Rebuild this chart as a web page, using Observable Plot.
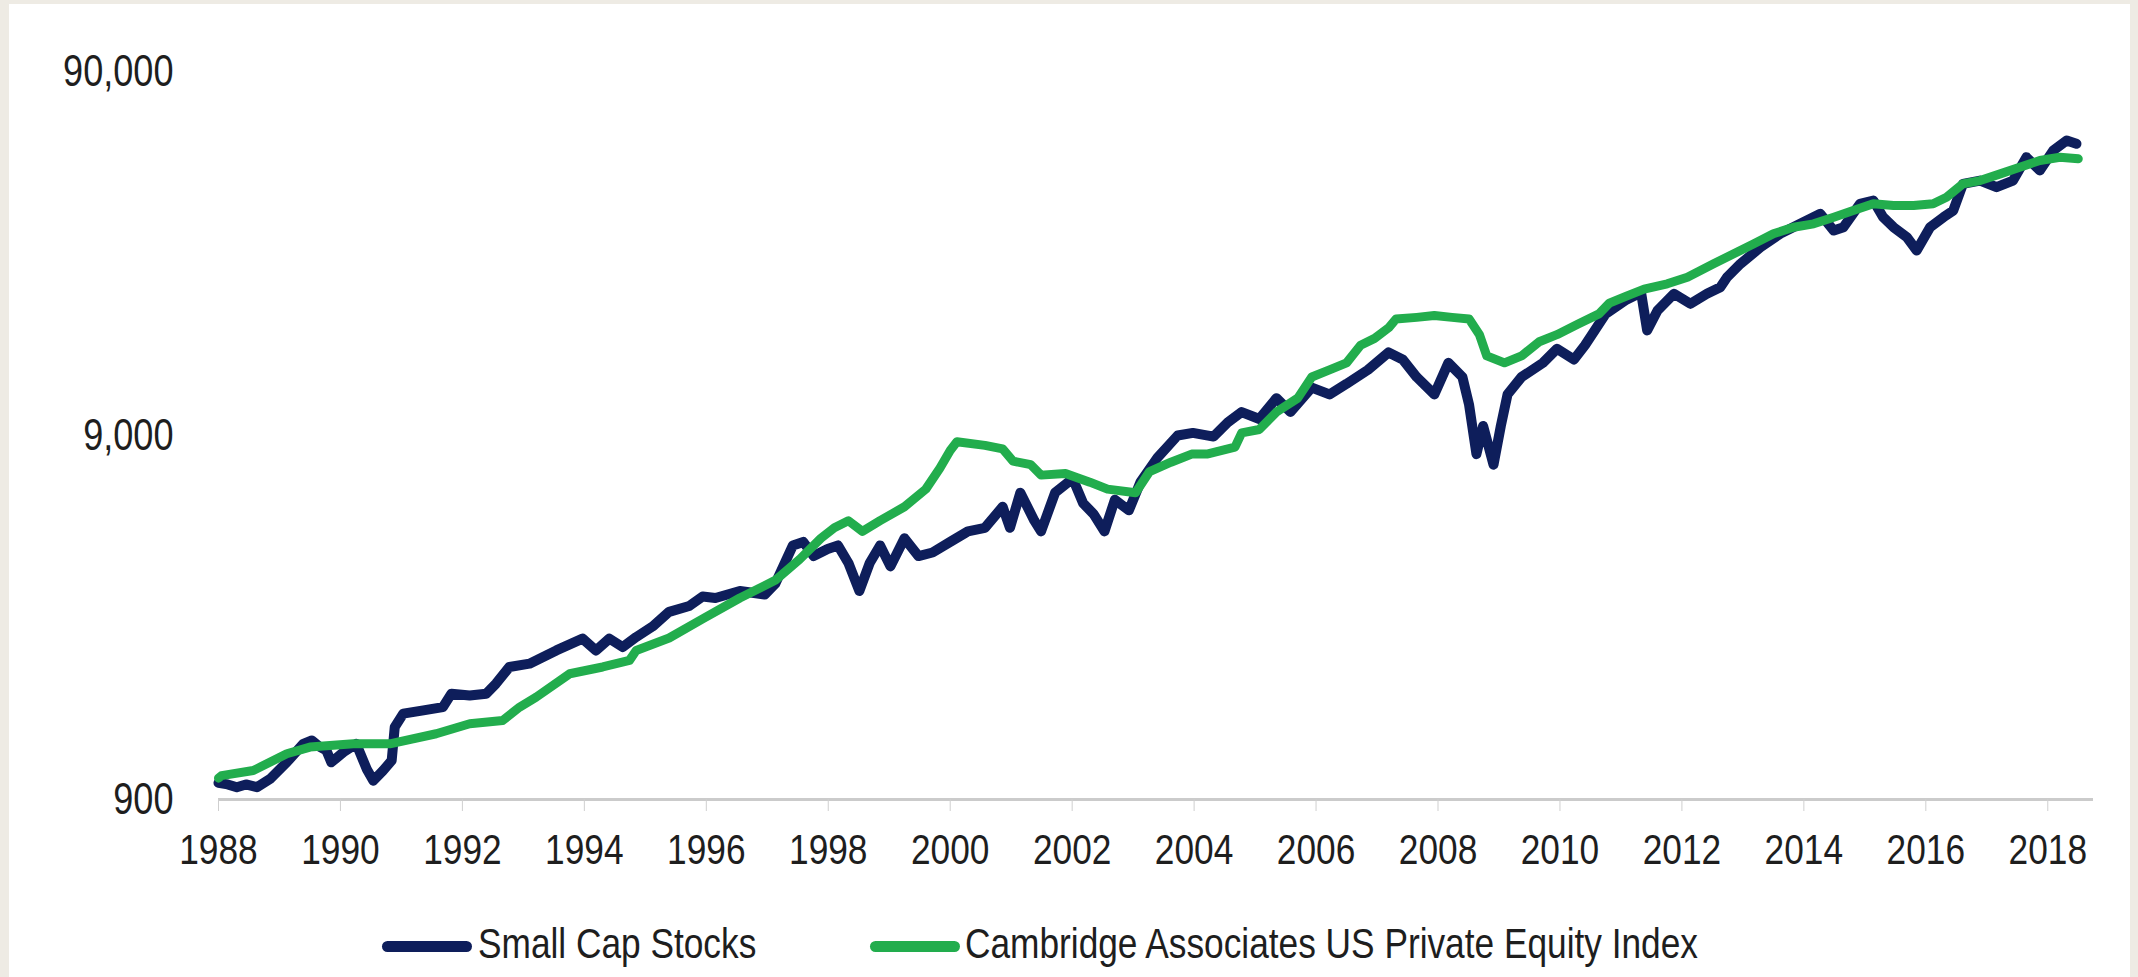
<!DOCTYPE html>
<html>
<head>
<meta charset="utf-8">
<script src="https://cdn.jsdelivr.net/npm/d3@7"></script>
<script src="https://cdn.jsdelivr.net/npm/@observablehq/plot@0.6"></script>
<style>
  html, body { margin: 0; padding: 0; }
  body { background: #eeebe4; width: 2138px; height: 977px; overflow: hidden; }
  #wrap { position: relative; width: 2138px; height: 977px; }
  #panel { position: absolute; left: 9px; top: 4px; width: 2121px; height: 973px; background: #ffffff; }
  #chart { position: absolute; left: 0; top: 0; }
  #legend { position: absolute; left: 0; top: 917px; width: 2138px; height: 52px; }
  .item { position: absolute; top: 0; height: 52px; display: flex; align-items: center; white-space: nowrap; }
  .sw { display: inline-block; width: 90px; height: 11px; border-radius: 6px; margin-top: 6px; }
  .lbl { display: inline-block; font-size: 43px; color: #1e1e1e; transform-origin: left center; }
</style>
</head>
<body>
<div id="wrap">
  <div id="panel"></div>
  <div id="chart"></div>
  <div id="legend"></div>
</div>
<script>
// ---------- data ----------
const seriesNames = ["Small Cap Stocks", "Cambridge Associates US Private Equity Index"];
const seriesColors = ["#0e1e5b", "#22ad4d"];

const smallCapDates = [1988.00,1988.15,1988.30,1988.45,1988.63,1988.85,1989.12,1989.39,1989.53,1989.65,1989.77,1989.85,1990.05,1990.26,1990.43,1990.54,1990.70,1990.84,1990.89,1991.03,1991.36,1991.68,1991.82,1992.12,1992.39,1992.55,1992.77,1993.10,1993.54,1993.97,1994.19,1994.41,1994.63,1994.85,1995.12,1995.39,1995.72,1995.94,1996.15,1996.55,1996.96,1997.13,1997.42,1997.59,1997.76,1997.99,1998.16,1998.33,1998.51,1998.68,1998.85,1999.02,1999.25,1999.48,1999.71,2000.00,2000.29,2000.57,2000.86,2000.98,2001.15,2001.38,2001.49,2001.72,2002.01,2002.18,2002.35,2002.53,2002.70,2002.93,2003.12,2003.40,2003.73,2003.98,2004.32,2004.55,2004.78,2005.07,2005.35,2005.58,2005.93,2006.22,2006.50,2006.85,2007.19,2007.42,2007.65,2007.94,2008.17,2008.40,2008.51,2008.63,2008.74,2008.91,2009.03,2009.14,2009.37,2009.72,2009.95,2010.23,2010.41,2010.75,2011.09,2011.33,2011.43,2011.60,2011.87,2012.14,2012.41,2012.63,2012.74,2012.96,2013.29,2013.61,2013.94,2014.27,2014.49,2014.65,2014.92,2015.14,2015.30,2015.47,2015.69,2015.85,2016.07,2016.29,2016.45,2016.61,2016.89,2017.16,2017.43,2017.65,2017.87,2018.09,2018.31,2018.47];
const smallCapValues = [1000,990,973,990,973,1026,1139,1280,1307,1260,1227,1139,1214,1280,1092,1014,1081,1151,1422,1549,1582,1615,1758,1738,1758,1873,2081,2125,2311,2490,2311,2490,2360,2514,2690,2950,3060,3250,3219,3365,3291,3521,4490,4591,4198,4391,4490,4019,3365,4019,4490,3933,4697,4198,4293,4591,4907,5019,5734,5019,6267,5250,4907,6267,6852,5862,5480,4907,5995,5605,6700,7830,9000,9150,8940,9770,10440,9990,11400,10440,12190,11670,12480,13630,15220,14560,13030,11670,14250,13030,10920,8000,9560,7480,9560,11670,13030,14250,15570,14560,15930,19430,21250,22230,17500,19840,22050,20700,22050,23000,24500,26670,29610,32240,34340,36590,32910,33610,38970,39800,35810,33610,31550,29000,33610,35810,37350,44230,45150,43280,45150,52340,48110,54600,58160,56970];

const peDates = [1988.00,1988.05,1988.57,1989.12,1989.50,1990.21,1990.81,1991.57,1992.12,1992.66,1992.94,1993.21,1993.76,1994.30,1994.74,1994.85,1995.39,1995.94,1996.55,1997.13,1997.53,1997.88,1998.10,1998.33,1998.56,1998.85,1999.25,1999.60,1999.83,2000.00,2000.11,2000.57,2000.86,2001.03,2001.32,2001.49,2001.89,2002.29,2002.58,2003.04,2003.27,2003.62,2003.96,2004.21,2004.67,2004.78,2005.07,2005.35,2005.70,2005.93,2006.22,2006.50,2006.73,2006.96,2007.19,2007.31,2007.65,2007.94,2008.23,2008.51,2008.68,2008.80,2009.09,2009.37,2009.66,2009.95,2010.29,2010.64,2010.81,2011.09,2011.38,2011.76,2012.09,2012.52,2012.85,2013.18,2013.50,2013.83,2014.16,2014.49,2014.81,2015.14,2015.47,2015.80,2016.12,2016.34,2016.61,2016.89,2017.22,2017.54,2017.87,2018.20,2018.50];
const peValues = [1030,1047,1081,1202,1254,1280,1280,1364,1453,1484,1615,1720,1994,2081,2170,2311,2500,2820,3219,3600,4111,4697,5019,5250,4907,5250,5734,6411,7316,8182,8650,8455,8270,7651,7483,7005,7079,6700,6411,6267,7163,7600,8000,8000,8360,9150,9350,10440,11400,13030,13630,14250,15930,16640,17790,18800,19000,19220,19000,18800,17030,14890,14250,14890,16290,17030,18200,19430,20800,21740,22720,23500,24500,26670,28410,30260,32240,33610,34340,35810,37350,38970,38560,38560,38970,40630,44230,45150,47100,49130,51250,52340,51810];

const xTicks = [1988,1990,1992,1994,1996,1998,2000,2002,2004,2006,2008,2010,2012,2014,2016,2018];
const yTicks = [900, 9000, 90000];

// ---------- font detection ----------
function hasFont(name) {
  const c = document.createElement("canvas").getContext("2d");
  const s = "mmmmmwwwwwiiiii1234567890";
  c.font = "40px monospace";
  const w0 = c.measureText(s).width;
  c.font = `40px '${name}', monospace`;
  const w1 = c.measureText(s).width;
  return Math.abs(w0 - w1) > 0.5;
}
const narrow = hasFont("Liberation Sans Narrow");
const FONT = narrow ? "'Liberation Sans Narrow', 'Arial Narrow', sans-serif" : "'Liberation Sans', Arial, sans-serif";
const SQUASH = narrow ? 1 : 0.82;

// ---------- tables ----------
const smallCap = smallCapDates.map((d, i) => ({year: d, value: smallCapValues[i]}));
const pe = peDates.map((d, i) => ({year: d, value: peValues[i]}));
const fmt = d3.format(",");

const chart = Plot.plot({
  width: 2138,
  height: 890,
  marginLeft: 218,
  marginRight: 45,
  marginTop: 71,
  marginBottom: 91,
  style: {background: "transparent", fontFamily: FONT, color: "#1e1e1e", overflow: "visible"},
  x: {type: "linear", domain: [1988, 2018.75]},
  y: {type: "log", domain: [900, 90000], axis: null},
  marks: [
    Plot.ruleY([900], {stroke: "#cbcbcb", strokeWidth: 3}),
    Plot.axisX({ticks: xTicks, tickFormat: d => String(d), tickSize: 12, tickPadding: 22,
      stroke: "#cfcfcf", fill: "#1e1e1e", fontSize: 43, label: null}),
    Plot.text(yTicks, {y: d => d, text: d => fmt(d), frameAnchor: "left", dx: -45,
      textAnchor: "end", fontSize: 44, fill: "#1e1e1e"}),
    Plot.line(smallCap, {x: "year", y: "value", stroke: seriesColors[0], strokeWidth: 10,
      strokeLinejoin: "round", strokeLinecap: "round"}),
    Plot.line(pe, {x: "year", y: "value", stroke: seriesColors[1], strokeWidth: 9,
      strokeLinejoin: "round", strokeLinecap: "round"})
  ]
});
document.getElementById("chart").appendChild(chart);

if (SQUASH !== 1) {
  chart.querySelectorAll("text").forEach(t => {
    const L = t.getComputedTextLength();
    if (L > 0) {
      t.setAttribute("textLength", (L * SQUASH).toFixed(1));
      t.setAttribute("lengthAdjust", "spacingAndGlyphs");
    }
  });
}

// ---------- legend ----------
const legend = document.getElementById("legend");
const legendLeft = [382, 870];
const legendGap = [6, 5];
seriesNames.forEach((name, i) => {
  const item = document.createElement("div");
  item.className = "item";
  item.style.left = legendLeft[i] + "px";
  const sw = document.createElement("span");
  sw.className = "sw";
  sw.style.background = seriesColors[i];
  sw.style.marginRight = legendGap[i] + "px";
  const lb = document.createElement("span");
  lb.className = "lbl";
  lb.style.fontFamily = FONT;
  lb.textContent = name;
  if (SQUASH !== 1) lb.style.transform = `scaleX(${SQUASH})`;
  item.appendChild(sw);
  item.appendChild(lb);
  legend.appendChild(item);
});
</script>
</body>
</html>
